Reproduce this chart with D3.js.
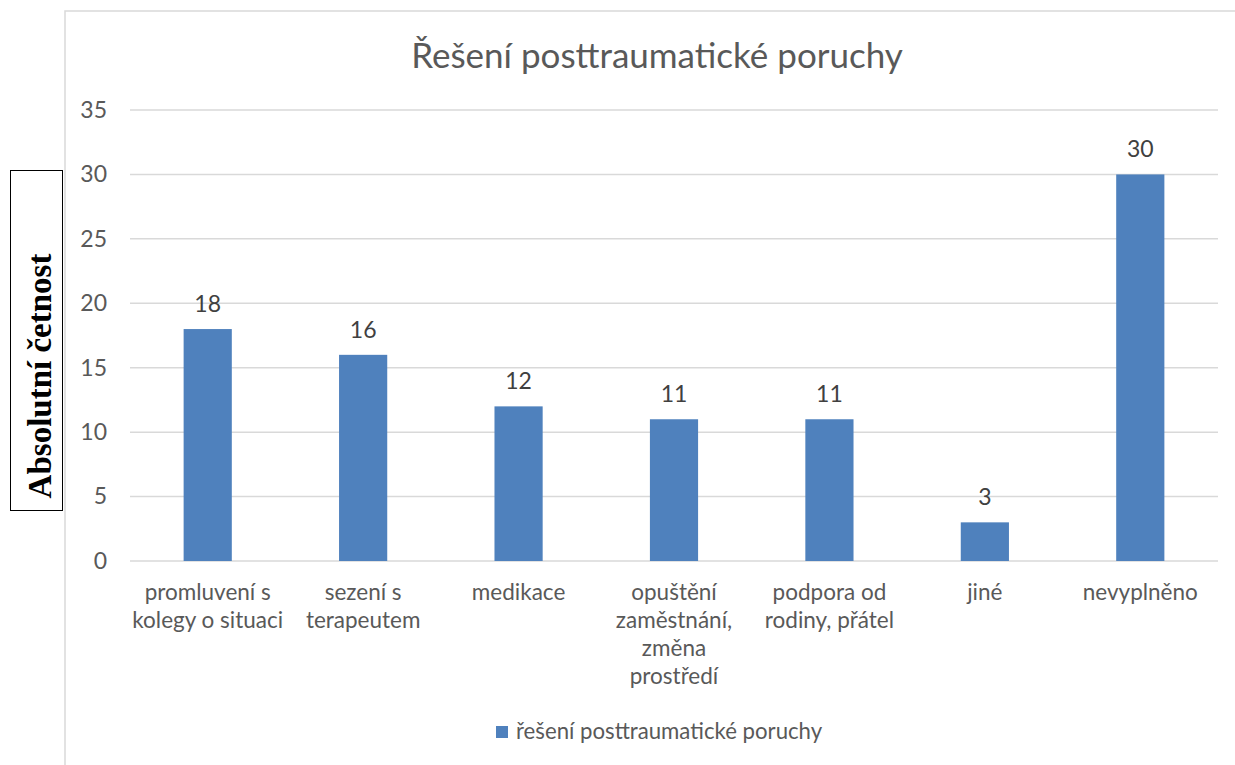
<!DOCTYPE html>
<html>
<head>
<meta charset="utf-8">
<script src="https://cdn.jsdelivr.net/npm/d3@7"></script>
<style>
  html, body { margin: 0; padding: 0; background: #fff; }
  svg { display: block; }
</style>
</head>
<body>
<svg id="chart" width="1235" height="765"></svg>
<script>
// Data
const categories = [
  ["promluvení s", "kolegy o situaci"],
  ["sezení s", "terapeutem"],
  ["medikace"],
  ["opuštění", "zaměstnání,", "změna", "prostředí"],
  ["podpora od", "rodiny, přátel"],
  ["jiné"],
  ["nevyplněno"]
];
const values = [18, 16, 12, 11, 11, 3, 30];
const yTicks = [0, 5, 10, 15, 20, 25, 30, 35];
const seriesName = "řešení posttraumatické poruchy";
const chartTitle = "Řešení posttraumatické poruchy";
const yTitle = "Absolutní četnost";

const W = 1235, H = 765;
const plot = { left: 130, right: 1218, top: 110, bottom: 561 };
const barColor = "#4f81bd";
const textColor = "#595959";
const gridColor = "#d9d9d9";
const font = "Lato, 'Open Sans', sans-serif";
const labelSize = 22.5;

const svg = d3.select("#chart");

// Outer chart frame (top and left edges visible)
svg.append("path")
  .attr("d", `M65,${H} V11 H${W}`)
  .attr("fill", "none")
  .attr("stroke", gridColor)
  .attr("stroke-width", 1.5);

const x = d3.scaleBand()
  .domain(d3.range(values.length))
  .range([plot.left, plot.right])
  .paddingInner(0.69)
  .paddingOuter(0.345);

const y = d3.scaleLinear()
  .domain([0, 35])
  .range([plot.bottom, plot.top]);

// Gridlines
svg.append("g")
  .selectAll("line")
  .data(yTicks)
  .join("line")
  .attr("x1", plot.left)
  .attr("x2", plot.right)
  .attr("y1", d => y(d))
  .attr("y2", d => y(d))
  .attr("stroke", gridColor)
  .attr("stroke-width", 1.5);

// Y axis tick labels
const yAxis = svg.append("g")
  .attr("transform", `translate(${plot.left - 23},0)`)
  .call(d3.axisLeft(y).tickValues(yTicks).tickSize(0).tickPadding(0));
yAxis.select(".domain").remove();
yAxis.selectAll("text")
  .attr("font-family", font)
  .attr("font-size", 23)
  .attr("fill", textColor);

// Bars
svg.append("g")
  .selectAll("rect")
  .data(values)
  .join("rect")
  .attr("x", (d, i) => x(i))
  .attr("y", d => y(d))
  .attr("width", x.bandwidth())
  .attr("height", d => y(0) - y(d))
  .attr("fill", barColor);

// Value labels
svg.append("g")
  .selectAll("text")
  .data(values)
  .join("text")
  .attr("x", (d, i) => x(i) + x.bandwidth() / 2)
  .attr("y", d => y(d) - 17)
  .attr("text-anchor", "middle")
  .attr("font-family", font)
  .attr("font-size", 23)
  .attr("fill", "#404040")
  .text(d => d);

// Category labels (multi-line)
const catG = svg.append("g")
  .selectAll("text")
  .data(categories)
  .join("text")
  .attr("x", (d, i) => x(i) + x.bandwidth() / 2)
  .attr("y", 600)
  .attr("text-anchor", "middle")
  .attr("font-family", font)
  .attr("font-size", labelSize)
  .attr("fill", textColor);
catG.selectAll("tspan")
  .data(d => d)
  .join("tspan")
  .attr("x", function () { return d3.select(this.parentNode).attr("x"); })
  .attr("dy", (d, i) => i === 0 ? 0 : 28)
  .text(d => d);

// Chart title
svg.append("text")
  .attr("x", 657)
  .attr("y", 68)
  .attr("text-anchor", "middle")
  .attr("font-family", font)
  .attr("font-size", 35)
  .attr("fill", textColor)
  .text(chartTitle);

// Y axis title in a framed box
svg.append("rect")
  .attr("x", 10.5)
  .attr("y", 170.5)
  .attr("width", 52)
  .attr("height", 340)
  .attr("fill", "#fff")
  .attr("stroke", "#000")
  .attr("stroke-width", 1);
svg.append("text")
  .attr("transform", `translate(51,376) rotate(-90)`)
  .attr("text-anchor", "middle")
  .attr("font-family", "'Liberation Serif', 'Times New Roman', serif")
  .attr("font-weight", "bold")
  .attr("font-size", 33)
  .attr("fill", "#000")
  .text(yTitle);

// Legend
const legend = svg.append("g").attr("transform", "translate(496,726)");
legend.append("rect")
  .attr("width", 12)
  .attr("height", 12)
  .attr("fill", barColor);
legend.append("text")
  .attr("x", 20)
  .attr("y", 13)
  .attr("font-family", font)
  .attr("font-size", 22.2)
  .attr("fill", textColor)
  .text(seriesName);
</script>
</body>
</html>
